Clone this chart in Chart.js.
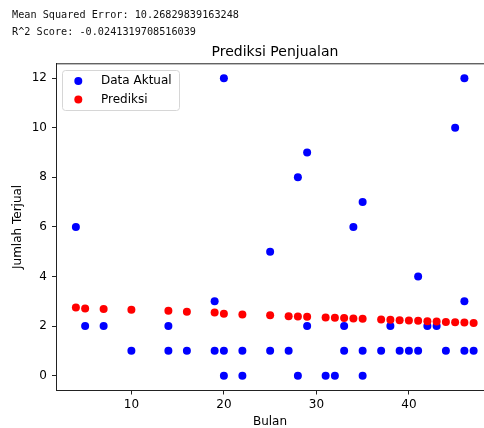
<!doctype html>
<html lang="id">
  <head>
    <meta charset="UTF-8" />
    <title>Prediksi Penjualan</title>
    <script src="https://cdn.jsdelivr.net/npm/chart.js"></script>
    <style>
      body {
        margin: 0;
        background: #fff;
        overflow: hidden;
      }

      .wrap {
        position: relative;
        width: 484px;
        height: 428px;
      }

      #output {
        position: absolute;
        left: 12px;
        top: 7px;
        margin: 0;
        font-family: 'DejaVu Sans Mono', monospace;
        font-size: 10.2px;
        line-height: 16.7px;
        color: #111;
      }

      canvas {
        position: absolute;
        left: 0;
        top: 0;
      }
    </style>
  </head>
  <body>
    <div class="wrap">
      <canvas id="salesChart" width="484" height="428"></canvas>
      <pre id="output">Mean Squared Error: 10.26829839163248
R^2 Score: -0.0241319708516039</pre>
    </div>

    <script>
      // data
      const actualBulan = [4, 5, 7, 10, 14, 14, 16, 19, 19, 20, 20, 20, 22, 22, 25, 25, 27, 28, 28, 29, 29,
        31, 32, 33, 33, 34, 35, 35, 35, 37, 38, 39, 40, 41, 41, 42, 43, 44, 45, 46, 46, 46, 47];
      const actualValues = [6, 2, 2, 1, 2, 1, 1, 3, 1, 12, 1, 0, 1, 0, 5, 1, 1, 8, 0, 9, 2,
        0, 0, 2, 1, 6, 7, 1, 0, 1, 2, 1, 1, 4, 1, 2, 2, 1, 10, 12, 3, 1, 1];

      const predBulan = [4, 5, 7, 10, 14, 16, 19, 20, 22, 25, 27, 28, 29, 31, 32, 33, 34, 35,
        37, 38, 39, 40, 41, 42, 43, 44, 45, 46, 47];
      const predValues = [2.75, 2.71, 2.69, 2.66, 2.62, 2.58, 2.55, 2.5, 2.47, 2.44, 2.4, 2.39, 2.38,
        2.35, 2.33, 2.32, 2.3, 2.29, 2.26, 2.25, 2.23, 2.22, 2.21, 2.19, 2.18, 2.16, 2.15, 2.14, 2.12];

      const xTicks = [10, 20, 30, 40];
      const yTicks = [0, 2, 4, 6, 8, 10, 12];

      const chartTitle = 'Prediksi Penjualan';
      const legendLabels = ['Data Aktual', 'Prediksi'];
      const colors = ['#0000ff', '#ff0000'];

      const font = 'DejaVu Sans';

      // top spine, title and the matplotlib-like legend box
      const decorations = {
        id: 'decorations',
        afterDatasetsDraw(chart) {
          const { ctx, chartArea } = chart;
          ctx.save();
          ctx.strokeStyle = '#222';
          ctx.lineWidth = 1;
          ctx.beginPath();
          ctx.moveTo(chartArea.left, chartArea.top + 0.5);
          ctx.lineTo(chartArea.right, chartArea.top + 0.5);
          ctx.stroke();

          ctx.fillStyle = '#000';
          ctx.font = `14px "${font}"`;
          ctx.textAlign = 'center';
          ctx.textBaseline = 'middle';
          ctx.fillText(chartTitle, 275, 52);

          // legend
          ctx.beginPath();
          ctx.roundRect(62.5, 70.5, 117, 40, 3);
          ctx.fillStyle = 'rgba(255,255,255,0.8)';
          ctx.fill();
          ctx.strokeStyle = '#d6d6d6';
          ctx.stroke();

          ctx.font = `12px "${font}"`;
          ctx.textAlign = 'left';
          legendLabels.forEach((label, i) => {
            const y = 81 + i * 18.5;
            ctx.beginPath();
            ctx.arc(78.3, y, 4, 0, Math.PI * 2);
            ctx.fillStyle = colors[i];
            ctx.fill();
            ctx.fillStyle = '#000';
            ctx.fillText(label, 101, y);
          });
          ctx.restore();
        },
      };

      // no extra label padding, so the plot area sits where the spines are
      const noPadding = (scale) => {
        scale.paddingLeft = 0;
        scale.paddingRight = 0;
        scale.paddingTop = 0;
        scale.paddingBottom = 0;
      };

      new Chart(document.getElementById('salesChart'), {
        type: 'scatter',
        data: {
          datasets: [
            {
              label: legendLabels[0],
              data: actualBulan.map((x, i) => ({ x, y: actualValues[i] })),
              backgroundColor: colors[0],
              borderWidth: 0,
              pointRadius: 4,
              order: 2,
            },
            {
              label: legendLabels[1],
              data: predBulan.map((x, i) => ({ x, y: predValues[i] })),
              backgroundColor: colors[1],
              borderWidth: 0,
              pointRadius: 4,
              order: 1,
            },
          ],
        },
        options: {
          responsive: false,
          animation: false,
          devicePixelRatio: 1,
          layout: { autoPadding: false, padding: { top: 63.3, left: 0, right: 0, bottom: 0 } },
          plugins: {
            legend: { display: false },
            title: { display: false },
            tooltip: { enabled: false },
          },
          scales: {
            x: {
              type: 'linear',
              min: 1.85,
              max: 48.12,
              afterFit: (scale) => { scale.height = 37.5; noPadding(scale); },
              afterBuildTicks: (scale) => { scale.ticks = xTicks.map((v) => ({ value: v })); },
              grid: { drawOnChartArea: false, drawTicks: true, tickLength: 4, color: '#222' },
              border: { display: true, color: '#222', width: 1 },
              ticks: { color: '#000', padding: 3, font: { family: font, size: 12 }, maxRotation: 0 },
              title: {
                display: true,
                text: 'Bulan',
                color: '#000',
                font: { family: font, size: 12, lineHeight: 1.0 },
                padding: { top: 0, bottom: 0 },
              },
            },
            y: {
              min: -0.6,
              max: 12.6,
              afterFit: (scale) => { scale.width = 56; noPadding(scale); },
              afterBuildTicks: (scale) => { scale.ticks = yTicks.map((v) => ({ value: v })); },
              grid: { drawOnChartArea: false, drawTicks: true, tickLength: 4, color: '#222' },
              border: { display: true, color: '#222', width: 1 },
              ticks: { color: '#000', padding: 5, font: { family: font, size: 12 } },
              title: {
                display: true,
                text: 'Jumlah Terjual',
                color: '#000',
                font: { family: font, size: 12 },
                padding: { top: 11, bottom: 0 },
              },
            },
          },
        },
        plugins: [decorations],
      });
    </script>
  </body>
</html>
